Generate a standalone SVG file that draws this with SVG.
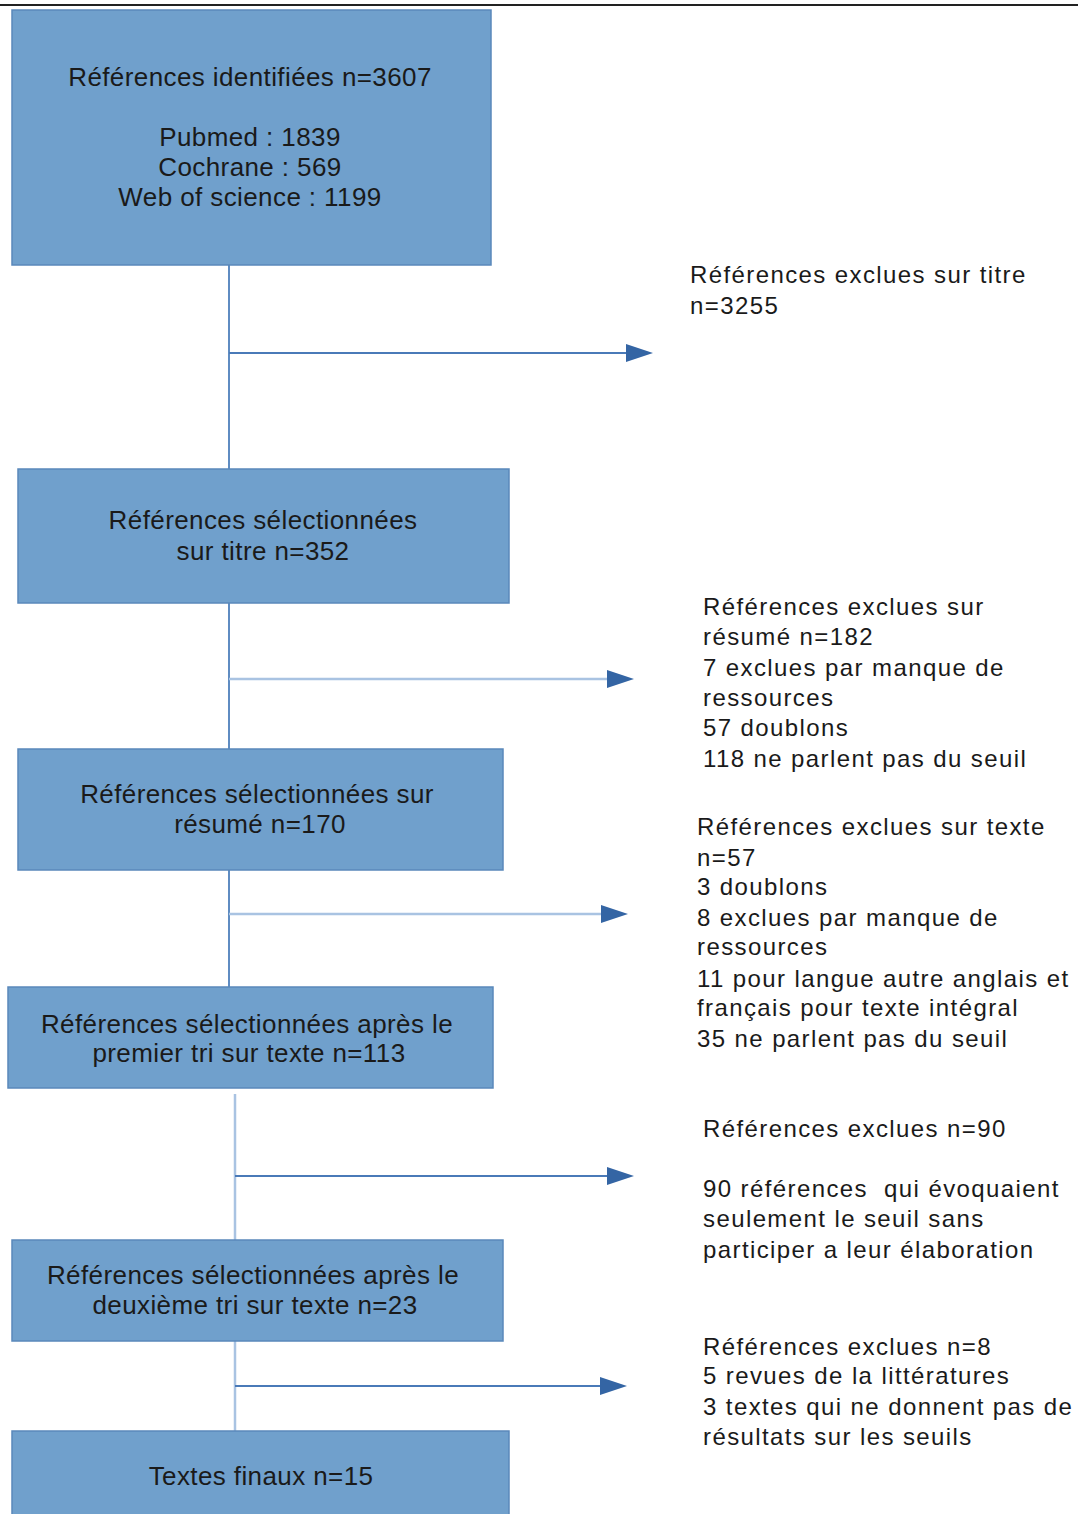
<svg xmlns="http://www.w3.org/2000/svg" width="1078" height="1514" viewBox="0 0 1078 1514">
<defs>
<marker id="arr" markerWidth="27" markerHeight="18" refX="0" refY="9" orient="auto" markerUnits="userSpaceOnUse">
<path d="M0,0 L27,9 L0,18 Z" fill="#3465a4"/>
</marker>
<style>
.box{fill:#70a0cc;stroke:#5a88bb;stroke-width:1.5}
.bt{font-family:"Liberation Sans",Arial,sans-serif;font-size:26px;fill:#1a1a1a;text-anchor:middle;letter-spacing:0.4px}
.rt{font-family:"Liberation Sans",Arial,sans-serif;font-size:24px;fill:#1a1a1a;letter-spacing:1.4px}
.v{stroke:#5f8cc2;stroke-width:2;fill:none}
.h{stroke:#4a7ab8;stroke-width:2;fill:none}
.hl{stroke:#a9c3e2;stroke-width:2.5;fill:none}
</style>
</defs>
<rect width="1078" height="1514" fill="#ffffff"/>
<line x1="0" y1="5" x2="1078" y2="5" stroke="#222" stroke-width="2"/>

<g id="connectors">
<line class="v" x1="229" y1="265" x2="229" y2="469"/>
<line class="h" x1="229" y1="353" x2="626" y2="353" marker-end="url(#arr)"/>
<line class="v" x1="229" y1="603" x2="229" y2="749"/>
<line class="hl" x1="229" y1="679" x2="607" y2="679" marker-end="url(#arr)"/>
<line class="v" x1="229" y1="870" x2="229" y2="987"/>
<line class="hl" x1="229" y1="914" x2="601" y2="914" marker-end="url(#arr)"/>
<line class="hl" x1="235" y1="1094" x2="235" y2="1240"/>
<line class="h" x1="235" y1="1176" x2="607" y2="1176" marker-end="url(#arr)"/>
<line class="hl" x1="235" y1="1341" x2="235" y2="1431"/>
<line class="h" x1="235" y1="1386" x2="600" y2="1386" marker-end="url(#arr)"/>
</g>

<g id="n1">
<rect class="box" x="12" y="10" width="479" height="255"/>
<text class="bt" x="250" y="86">Références identifiées n=3607</text>
<text class="bt" x="250" y="146">Pubmed : 1839</text>
<text class="bt" x="250" y="176">Cochrane : 569</text>
<text class="bt" x="250" y="206">Web of science : 1199</text>
</g>
<g id="n2">
<rect class="box" x="18" y="469" width="491" height="134"/>
<text class="bt" x="263" y="529">Références sélectionnées</text>
<text class="bt" x="263" y="560">sur titre n=352</text>
</g>
<g id="n3">
<rect class="box" x="18" y="749" width="485" height="121"/>
<text class="bt" x="257" y="803">Références sélectionnées sur</text>
<text class="bt" x="260" y="833">résumé n=170</text>
</g>
<g id="n4">
<rect class="box" x="8" y="987" width="485" height="101"/>
<text class="bt" x="247" y="1033">Références sélectionnées après le</text>
<text class="bt" x="249" y="1062">premier tri sur texte n=113</text>
</g>
<g id="n5">
<rect class="box" x="12" y="1240" width="491" height="101"/>
<text class="bt" x="253" y="1284">Références sélectionnées après le</text>
<text class="bt" x="255" y="1314">deuxième tri sur texte n=23</text>
</g>
<g id="n6">
<rect class="box" x="12" y="1431" width="497" height="90"/>
<text class="bt" x="261" y="1485">Textes finaux n=15</text>
</g>

<g id="e1">
<text class="rt" x="690" y="283">Références exclues sur titre</text>
<text class="rt" x="690" y="314">n=3255</text>
</g>
<g id="e2">
<text class="rt" x="703" y="615">Références exclues sur</text>
<text class="rt" x="703" y="645">résumé n=182</text>
<text class="rt" x="703" y="676">7 exclues par manque de</text>
<text class="rt" x="703" y="706">ressources</text>
<text class="rt" x="703" y="736">57 doublons</text>
<text class="rt" x="703" y="767">118 ne parlent pas du seuil</text>
</g>
<g id="e3">
<text class="rt" x="697" y="835">Références exclues sur texte</text>
<text class="rt" x="697" y="866">n=57</text>
<text class="rt" x="697" y="895">3 doublons</text>
<text class="rt" x="697" y="926">8 exclues par manque de</text>
<text class="rt" x="697" y="955">ressources</text>
<text class="rt" x="697" y="987">11 pour langue autre anglais et</text>
<text class="rt" x="697" y="1016">français pour texte intégral</text>
<text class="rt" x="697" y="1047">35 ne parlent pas du seuil</text>
</g>
<g id="e4">
<text class="rt" x="703" y="1137">Références exclues n=90</text>
<text class="rt" x="703" y="1197" xml:space="preserve">90 références  qui évoquaient</text>
<text class="rt" x="703" y="1227">seulement le seuil sans</text>
<text class="rt" x="703" y="1258">participer a leur élaboration</text>
</g>
<g id="e5">
<text class="rt" x="703" y="1355">Références exclues n=8</text>
<text class="rt" x="703" y="1384">5 revues de la littératures</text>
<text class="rt" x="703" y="1415">3 textes qui ne donnent pas de</text>
<text class="rt" x="703" y="1445">résultats sur les seuils</text>
</g>
</svg>
